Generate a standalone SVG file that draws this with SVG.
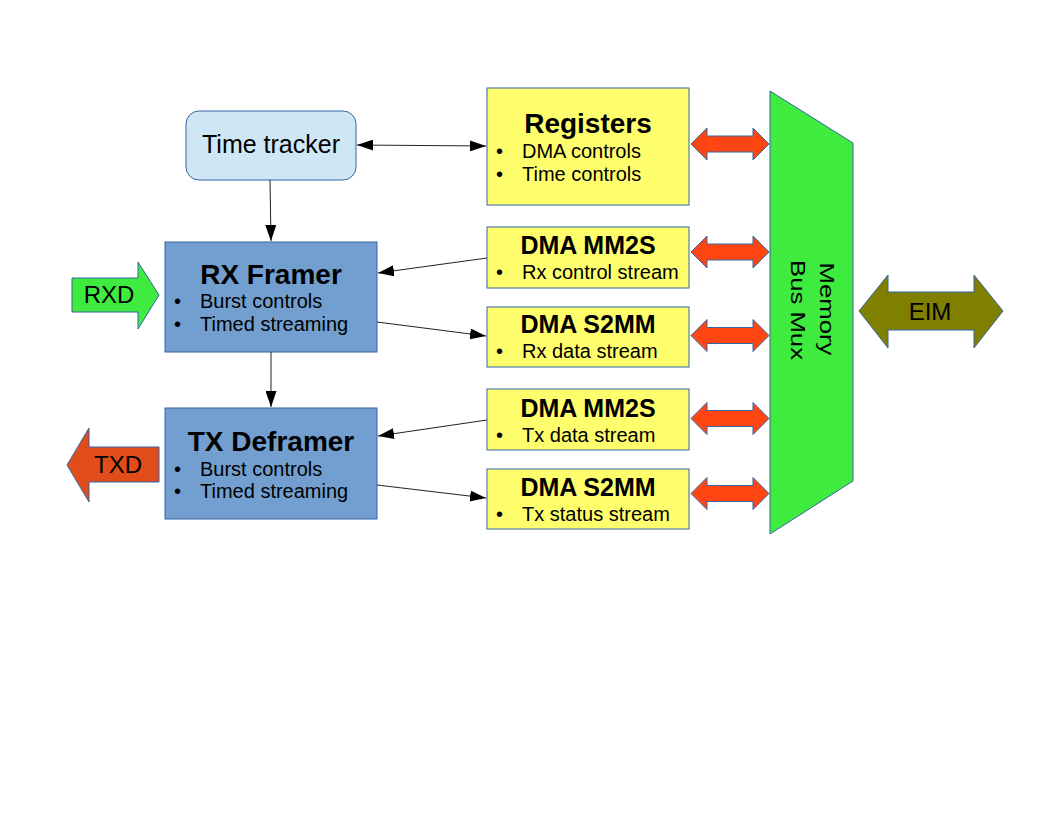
<svg xmlns="http://www.w3.org/2000/svg" width="1056" height="816" viewBox="0 0 1056 816">
<style>
text{font-family:"Liberation Sans",Arial,sans-serif;fill:#000}
.t{font-size:28px;font-weight:bold;text-anchor:middle}
.d{font-size:25px;font-weight:bold;text-anchor:middle}
.b{font-size:20px}
.l{font-size:24px;text-anchor:middle}
.yel{fill:#ffff6d;stroke:#3465a4;stroke-width:1}
.blu{fill:#729fcf;stroke:#3465a4;stroke-width:1}
.red{fill:#ff4512;stroke:#3465a4;stroke-width:1}
.con{stroke:#222;stroke-width:1;fill:none}
</style>
<defs>
<marker id="ah" viewBox="0 0 16 11" refX="16" refY="5.5" markerWidth="16" markerHeight="11" markerUnits="userSpaceOnUse" orient="auto-start-reverse">
<path d="M0,0 L16,5.5 L0,11 Z" fill="#000"/>
</marker>
</defs>
<rect width="1056" height="816" fill="#fff"/>

<g id="time-tracker">
<rect x="186" y="111" width="170" height="69" rx="13" fill="#cfe7f5" stroke="#3465a4"/>
<text x="271" y="153" style="font-size:25px;text-anchor:middle">Time tracker</text>
</g>

<g id="registers">
<rect class="yel" x="487" y="88" width="202" height="117"/>
<text class="t" x="588" y="133">Registers</text>
<text class="b" x="496" y="158">•</text><text class="b" x="522" y="158">DMA controls</text>
<text class="b" x="496" y="181">•</text><text class="b" x="522" y="181">Time controls</text>
</g>

<g id="rx-framer">
<rect class="blu" x="165" y="242" width="212" height="110"/>
<text class="t" x="271" y="284">RX Framer</text>
<text class="b" x="174" y="308">•</text><text class="b" x="200" y="308">Burst controls</text>
<text class="b" x="174" y="331">•</text><text class="b" x="200" y="331">Timed streaming</text>
</g>

<g id="tx-deframer">
<rect class="blu" x="165" y="408" width="212" height="111"/>
<text class="t" x="271" y="451">TX Deframer</text>
<text class="b" x="174" y="476">•</text><text class="b" x="200" y="476">Burst controls</text>
<text class="b" x="174" y="498">•</text><text class="b" x="200" y="498">Timed streaming</text>
</g>

<g id="dma-mm2s-rx">
<rect class="yel" x="487" y="227" width="202" height="61"/>
<text class="d" x="588" y="254">DMA MM2S</text>
<text class="b" x="496" y="279">•</text><text class="b" x="522" y="279">Rx control stream</text>
</g>

<g id="dma-s2mm-rx">
<rect class="yel" x="487" y="307" width="202" height="60"/>
<text class="d" x="588" y="333">DMA S2MM</text>
<text class="b" x="496" y="358">•</text><text class="b" x="522" y="358">Rx data stream</text>
</g>

<g id="dma-mm2s-tx">
<rect class="yel" x="487" y="389" width="202" height="61"/>
<text class="d" x="588" y="417">DMA MM2S</text>
<text class="b" x="496" y="442">•</text><text class="b" x="522" y="442">Tx data stream</text>
</g>

<g id="dma-s2mm-tx">
<rect class="yel" x="487" y="469" width="202" height="60"/>
<text class="d" x="588" y="496">DMA S2MM</text>
<text class="b" x="496" y="521">•</text><text class="b" x="522" y="521">Tx status stream</text>
</g>

<g id="memory-bus-mux">
<path d="M770,91 L853,143 L853,481 L770,534 Z" fill="#3eeb3e" stroke="#3465a4"/>
<text transform="translate(820,309) rotate(90)" style="font-size:21px;text-anchor:middle" textLength="93" lengthAdjust="spacingAndGlyphs">Memory</text>
<text transform="translate(791,310) rotate(90)" style="font-size:21px;text-anchor:middle" textLength="100" lengthAdjust="spacingAndGlyphs">Bus Mux</text>
</g>

<g id="rxd">
<path d="M72,278 L138,278 L138,262 L159,295 L138,329 L138,312 L72,312 Z" fill="#3eeb3e" stroke="#3465a4"/>
<text class="l" x="109" y="303">RXD</text>
</g>

<g id="txd">
<path d="M159,447 L89,447 L89,428 L67,465 L89,502 L89,482 L159,482 Z" fill="#e04c1a" stroke="#3465a4"/>
<text class="l" x="118" y="473">TXD</text>
</g>

<g id="eim">
<path d="M859,311 L888,275 L888,292 L974,292 L974,275 L1003,311 L974,348 L974,330 L888,330 L888,348 Z" fill="#808000" stroke="#3465a4"/>
<text class="l" x="930" y="320">EIM</text>
</g>

<g id="bus-arrows">
<path class="red" d="M691,144 L707,128 L707,136 L753,136 L753,128 L769,144 L753,160 L753,152 L707,152 L707,160 Z"/>
<path class="red" d="M691,252 L707,236 L707,244 L753,244 L753,236 L769,252 L753,268 L753,260 L707,260 L707,268 Z"/>
<path class="red" d="M691,335.5 L707,319.5 L707,327.5 L753,327.5 L753,319.5 L769,335.5 L753,351.5 L753,343.5 L707,343.5 L707,351.5 Z"/>
<path class="red" d="M691,418.5 L707,402.5 L707,410.5 L753,410.5 L753,402.5 L769,418.5 L753,434.5 L753,426.5 L707,426.5 L707,434.5 Z"/>
<path class="red" d="M691,493.5 L707,477.5 L707,485.5 L753,485.5 L753,477.5 L769,493.5 L753,509.5 L753,501.5 L707,501.5 L707,509.5 Z"/>
</g>

<g id="connectors">
<line class="con" x1="357" y1="145" x2="486" y2="146" marker-start="url(#ah)" marker-end="url(#ah)"/>
<line class="con" x1="270" y1="180" x2="271" y2="241" marker-end="url(#ah)"/>
<line class="con" x1="271" y1="352" x2="271" y2="407" marker-end="url(#ah)"/>
<line class="con" x1="487" y1="258" x2="378" y2="273" marker-end="url(#ah)"/>
<line class="con" x1="377" y1="322" x2="486" y2="336" marker-end="url(#ah)"/>
<line class="con" x1="487" y1="420" x2="378" y2="436" marker-end="url(#ah)"/>
<line class="con" x1="377" y1="485" x2="486" y2="498" marker-end="url(#ah)"/>
</g>
</svg>
